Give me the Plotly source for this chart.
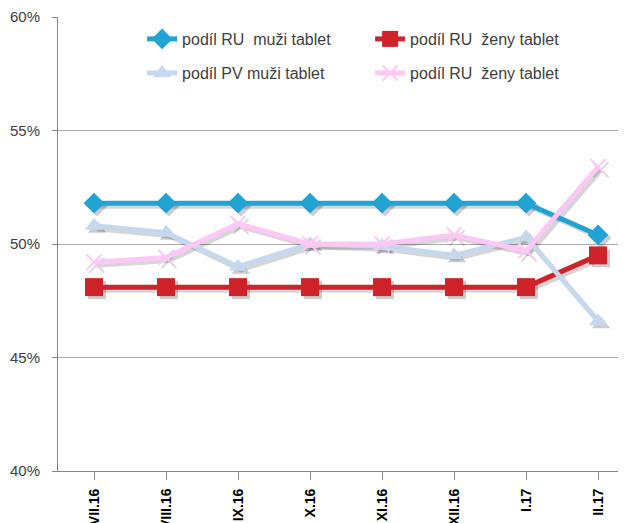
import plotly.graph_objects as go

categories = ["VII.16", "VIII.16", "IX.16", "X.16", "XI.16", "XII.16", "I.17", "II.17"]
ru_muzi = [51.8, 51.8, 51.8, 51.8, 51.8, 51.8, 51.8, 50.4]
ru_zeny = [48.1, 48.1, 48.1, 48.1, 48.1, 48.1, 48.1, 49.5]
pv_muzi = [50.8, 50.5, 49.0, 50.0, 49.9, 49.5, 50.3, 46.6]
ru_zeny2 = [49.2, 49.4, 50.9, 50.0, 50.0, 50.4, 49.7, 53.4]
names = ["podíl RU  muži tablet", "podíl RU  ženy tablet", "podíl PV muži tablet", "podíl RU  ženy tablet"]
y_ticks = [40, 45, 50, 55, 60]

series = [ru_muzi, ru_zeny, pv_muzi, ru_zeny2]
colors = ["#21A3D3", "#CE2429", "#C6D8EE", "#FDC8F6"]
symbols = ["diamond", "square", "triangle-up", "x-thin"]
sizes = [16, 18, 16, 15]
legends = ["legend", "legend", "legend2", "legend2"]

fig = go.Figure()
x_idx = list(range(len(categories)))

# shadows (base axes, shifted a few pixels right/down)
for s, sym, sz in zip(series, symbols, sizes):
    mk = dict(symbol=sym, size=sz, color="rgba(0,0,0,0.2)")
    if sym == "x-thin":
        mk["line"] = dict(color="rgba(0,0,0,0.15)", width=2)
    fig.add_trace(go.Scatter(x=x_idx, y=s, mode="lines+markers", xaxis="x", yaxis="y",
                             line=dict(color="rgba(0,0,0,0.16)", width=5), marker=mk,
                             showlegend=False, hoverinfo="skip"))

for s, n, c, sym, sz, lg in zip(series, names, colors, symbols, sizes, legends):
    mk = dict(symbol=sym, size=sz, color=c)
    if sym == "x-thin":
        mk["line"] = dict(color=c, width=2)
    fig.add_trace(go.Scatter(x=x_idx, y=s, name=n, mode="lines+markers", xaxis="x2", yaxis="y2",
                             line=dict(color=c, width=5), marker=mk, legend=lg))

xr = [-0.5, 7.5]
yr = [40, 60]
dx = 3 / 72.0
dy = 3 / 22.7

fig.update_layout(
    width=626, height=523,
    margin=dict(l=50, r=0, t=9, b=60),
    paper_bgcolor="white", plot_bgcolor="white",
    font=dict(family="Liberation Sans, Arial, sans-serif", color="#404040"),
    xaxis=dict(range=[xr[0] - dx, xr[1] - dx], visible=False, showgrid=False, zeroline=False),
    yaxis=dict(range=[yr[0] + dy, yr[1] + dy], visible=False, showgrid=False, zeroline=False),
    xaxis2=dict(range=xr, overlaying="x", tickmode="array", tickvals=x_idx,
                ticktext=[f"<b>{c}</b>" for c in categories],
                tickangle=-90, ticks="outside", ticklen=8, tickcolor="#868686", side="bottom",
                showgrid=False, zeroline=False, showline=True, linecolor="#868686", linewidth=1,
                tickfont=dict(size=14, color="#000000", family="Liberation Sans, Arial, sans-serif"),
                automargin=False, ticklabelstandoff=3),
    yaxis2=dict(range=yr, overlaying="y", tickmode="array", tickvals=y_ticks,
                ticktext=[f"{v}%" for v in y_ticks], side="left",
                ticks="outside", ticklen=5, tickcolor="#868686",
                showgrid=True, gridcolor="#ABABAB", gridwidth=1, zeroline=False,
                showline=True, linecolor="#868686", linewidth=1,
                tickfont=dict(size=15, color="#404040"), automargin=False,
                ticklabelstandoff=9),
    legend=dict(orientation="h", x=0.146, y=0.989, xanchor="left", yanchor="top",
                entrywidth=183, entrywidthmode="pixels", bgcolor="rgba(0,0,0,0)",
                font=dict(size=16, color="#404040")),
    legend2=dict(orientation="h", x=0.146, y=0.914, xanchor="left", yanchor="top",
                 entrywidth=183, entrywidthmode="pixels", bgcolor="rgba(0,0,0,0)",
                 font=dict(size=16, color="#404040")),
)

fig.write_html("out.html")
